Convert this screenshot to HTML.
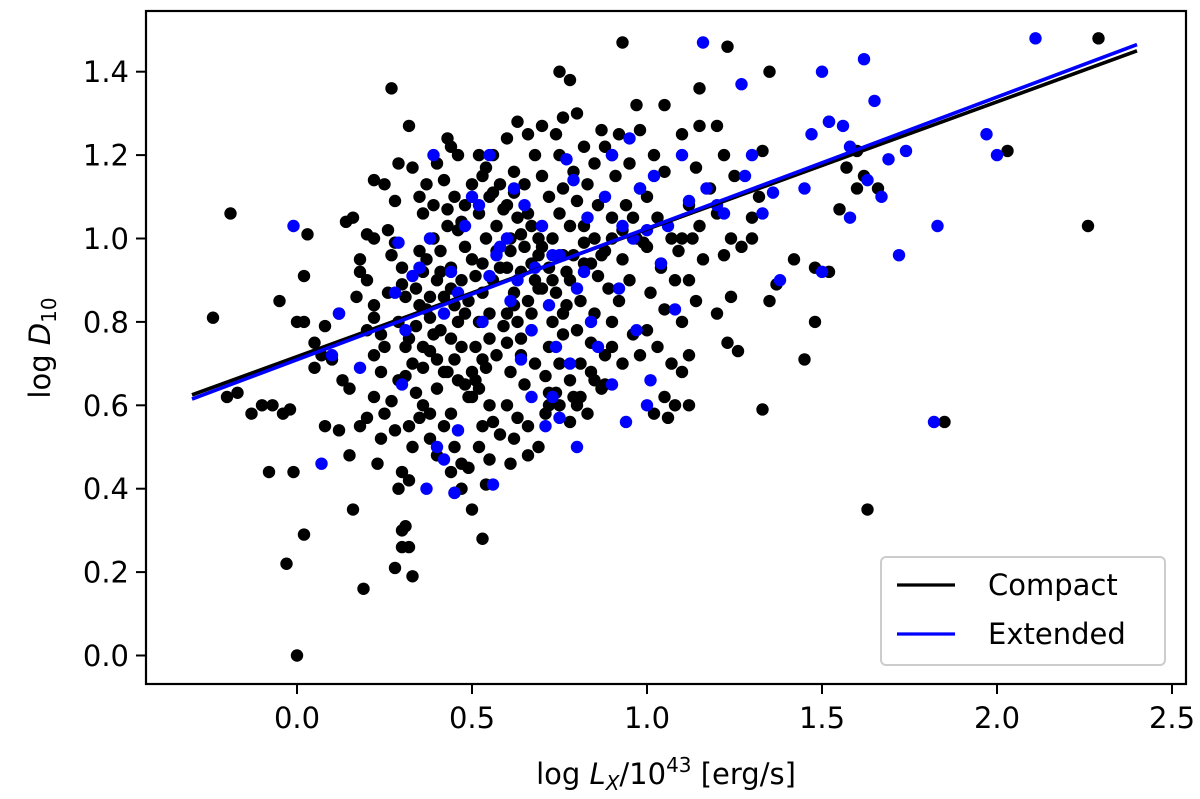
<!DOCTYPE html>
<html><head><meta charset="utf-8"><style>
html,body{margin:0;padding:0;background:#fff;}
svg{display:block;font-family:"DejaVu Sans","Liberation Sans",sans-serif;}
</style></head><body>
<svg id="chart" width="1200" height="799" viewBox="0 0 1200 799">
<g id="marks"></g>
<g id="axes"></g>
</svg>
<script>
const blackX=[-0.24,-0.19,-0.2,-0.17,-0.13,-0.1,-0.07,-0.04,-0.02,-0.08,-0.01,-0.03,0.02,0.0,-0.05,0.0,0.02,0.03,0.02,0.05,0.07,0.08,0.05,0.1,0.08,0.12,0.13,0.15,0.15,0.16,0.19,0.2,0.18,0.12,0.14,0.16,0.18,0.18,0.17,0.2,0.22,0.22,0.2,0.24,0.22,0.25,0.25,0.24,0.23,0.22,0.27,0.28,0.29,0.27,0.28,0.25,0.22,0.22,0.2,0.26,0.28,0.27,0.3,0.3,0.31,0.28,0.3,0.31,0.29,0.3,0.32,0.33,0.3,0.32,0.33,0.32,0.35,0.36,0.34,0.31,0.33,0.36,0.32,0.36,0.34,0.35,0.38,0.38,0.36,0.4,0.37,0.39,0.41,0.43,0.35,0.32,0.29,0.33,0.37,0.42,0.4,0.44,0.46,0.43,0.45,0.48,0.46,0.48,0.5,0.44,0.47,0.42,0.45,0.48,0.41,0.44,0.47,0.4,0.43,0.46,0.49,0.4,0.38,0.42,0.45,0.4,0.47,0.44,0.49,0.38,0.45,0.47,0.5,0.53,0.54,0.55,0.52,0.53,0.56,0.55,0.52,0.5,0.53,0.51,0.55,0.52,0.55,0.53,0.56,0.53,0.57,0.54,0.57,0.52,0.55,0.58,0.54,0.56,0.52,0.6,0.63,0.66,0.7,0.68,0.62,0.65,0.7,0.72,0.6,0.63,0.67,0.61,0.65,0.69,0.6,0.64,0.68,0.62,0.66,0.6,0.63,0.67,0.6,0.64,0.68,0.61,0.65,0.6,0.63,0.66,0.62,0.69,0.72,0.74,0.71,0.75,0.72,0.76,0.73,0.77,0.74,0.78,0.72,0.76,0.73,0.78,0.75,0.8,0.76,0.79,0.75,0.74,0.76,0.75,0.78,0.8,0.82,0.85,0.83,0.86,0.82,0.85,0.88,0.82,0.86,0.89,0.81,0.85,0.8,0.84,0.88,0.81,0.85,0.79,0.83,0.78,0.8,0.88,0.9,0.92,0.95,0.93,0.97,0.9,0.94,0.98,0.91,0.95,0.88,0.92,0.9,0.87,0.93,0.97,0.98,1.02,1.05,1.0,1.03,1.07,1.0,1.04,1.08,1.01,1.05,1.0,1.03,1.07,0.98,1.02,1.06,1.05,1.1,1.12,1.1,1.14,1.12,1.16,1.1,1.15,1.12,1.18,1.14,1.1,1.05,1.15,1.2,1.22,1.25,1.2,1.24,1.22,1.2,1.23,1.26,1.24,1.27,1.3,1.32,1.33,1.35,1.23,1.3,1.35,1.37,1.33,1.42,1.45,1.48,1.48,1.52,1.52,1.6,1.57,1.62,1.6,1.55,1.63,1.66,1.85,2.03,2.26,2.29,1.12,1.08,1.15,
0.34,0.37,0.39,0.41,0.44,0.46,0.49,0.51,0.35,0.38,0.42,0.45,0.48,0.51,0.54,0.57,0.59,0.62,0.64,0.67,0.7,0.58,0.61,0.64,0.67,0.7,0.73,0.76,0.79,0.82,0.84,0.87,0.9,0.93,0.96,0.99,0.36,0.39,0.43,0.47,0.5,0.53,0.56,0.59,0.62,0.66,0.69,0.72,0.75,0.78,0.81,0.84,0.87,0.9,0.93,0.96,0.26,0.29,0.24,0.31,0.44,0.5,0.58,0.61,0.66,0.71,1.04,1.09,1.13,0.69,0.77];
const blackY=[0.81,1.06,0.62,0.63,0.58,0.6,0.6,0.58,0.59,0.44,0.44,0.22,0.29,0.0,0.85,0.8,0.91,1.01,0.8,0.75,0.72,0.79,0.69,0.71,0.55,0.54,0.66,0.64,0.48,0.35,0.16,0.57,0.55,0.82,1.04,1.05,0.95,0.92,0.86,0.9,0.84,0.81,0.78,0.77,0.72,0.74,0.58,0.52,0.46,0.62,0.61,0.54,0.66,1.36,1.09,1.13,1.14,1.0,1.01,1.02,0.99,0.96,0.93,0.89,0.86,0.21,0.3,0.31,0.4,0.44,0.42,0.5,0.26,0.26,0.19,0.55,0.57,0.6,0.63,0.67,0.7,0.69,0.76,0.74,0.79,0.84,0.81,0.86,0.92,0.9,0.95,1.0,0.97,1.03,1.1,1.27,1.18,1.17,1.13,1.14,1.18,1.22,1.2,1.24,1.1,1.08,1.02,0.98,0.95,0.93,0.9,0.86,0.84,0.82,0.78,0.76,0.74,0.71,0.68,0.66,0.62,0.64,0.58,0.55,0.5,0.48,0.46,0.44,0.45,0.52,0.39,0.4,0.35,0.28,0.41,0.47,0.5,0.55,0.56,0.6,0.64,0.68,0.71,0.74,0.76,0.8,0.82,0.87,0.9,0.94,0.97,1.0,1.03,1.06,1.1,1.13,1.17,1.2,1.2,1.24,1.28,1.25,1.27,1.2,1.16,1.13,1.15,1.1,1.08,1.05,1.03,1.0,0.98,0.96,0.93,0.92,0.9,0.87,0.85,0.82,0.8,0.78,0.75,0.72,0.7,0.68,0.65,0.6,0.57,0.55,0.52,0.5,0.6,0.63,0.67,0.7,0.74,0.77,0.8,0.84,0.87,0.9,0.93,0.96,1.0,1.03,1.06,1.09,1.12,1.16,1.2,1.25,1.29,1.4,1.38,1.3,1.22,1.18,1.13,1.08,1.03,1.0,0.97,0.94,0.91,0.88,0.85,0.82,0.78,0.75,0.72,0.7,0.66,0.62,0.58,0.56,0.6,0.65,0.8,0.85,0.9,0.95,1.0,1.05,1.08,1.12,1.15,1.18,1.22,1.25,1.2,1.26,1.47,1.32,1.26,1.2,1.16,1.1,1.05,1.0,0.98,0.94,0.9,0.87,0.83,0.78,0.74,0.7,0.72,0.58,0.57,0.62,0.68,0.72,0.8,0.85,0.9,0.95,1.0,1.03,1.08,1.12,1.17,1.25,1.32,1.36,1.27,1.2,1.15,1.06,1.0,0.96,0.82,0.75,0.73,0.86,0.98,1.05,1.1,1.21,1.4,1.46,1.0,0.85,0.89,0.59,0.95,0.71,0.8,0.93,0.92,1.28,1.21,1.17,1.15,1.12,1.07,0.35,1.12,0.56,1.21,1.03,1.48,0.6,0.6,1.27,
0.88,0.83,0.77,0.92,0.88,0.8,0.85,0.91,0.97,0.73,0.68,0.71,0.65,0.66,0.69,0.72,0.79,0.84,0.76,0.82,0.88,0.93,0.97,1.01,0.94,0.98,0.9,0.82,0.96,0.99,0.94,0.96,1.0,1.02,1.05,0.99,1.06,1.08,1.07,1.04,1.13,1.15,1.11,1.07,1.11,1.06,1.0,0.63,0.6,0.66,0.62,0.68,0.64,0.74,0.7,0.77,0.87,0.8,0.68,0.74,0.58,0.62,0.53,0.46,0.48,0.58,0.93,0.97,1.0,0.88,0.92];
const blueX=[-0.01,0.07,0.1,0.12,0.18,0.28,0.29,0.3,0.31,0.33,0.35,0.38,0.37,0.4,0.42,0.39,0.42,0.45,0.46,0.44,0.46,0.48,0.5,0.52,0.53,0.55,0.56,0.57,0.6,0.61,0.63,0.64,0.65,0.67,0.68,0.7,0.72,0.73,0.74,0.75,0.75,0.77,0.79,0.8,0.82,0.83,0.84,0.86,0.88,0.9,0.92,0.93,0.95,0.96,0.97,0.98,1.0,1.0,1.01,1.02,1.04,1.06,1.1,1.12,1.16,1.17,1.2,1.22,1.27,1.28,1.3,1.33,1.36,1.38,1.45,1.47,1.5,1.5,1.52,1.56,1.58,1.58,1.62,1.63,1.65,1.67,1.69,1.72,1.74,1.82,1.83,1.97,2.0,2.11,0.73,0.55,0.58,0.62,0.67,0.71,0.78,0.8,0.9,0.94,1.08];
const blueY=[1.03,0.46,0.72,0.82,0.69,0.87,0.99,0.65,0.78,0.91,0.93,1.0,0.4,0.5,0.47,1.2,0.82,0.39,0.54,0.92,0.87,1.03,1.1,1.08,0.8,0.91,0.41,0.96,1.0,0.85,0.9,0.71,1.08,0.78,0.93,1.03,0.84,0.62,0.74,0.57,0.96,1.19,1.14,0.88,0.92,1.05,0.8,0.74,1.1,1.2,0.88,1.03,1.24,1.0,0.78,1.12,1.02,0.6,0.66,1.15,0.94,1.03,1.2,1.09,1.47,1.12,1.08,1.06,1.37,1.15,1.2,1.06,1.11,0.9,1.12,1.25,1.4,0.92,1.28,1.27,1.22,1.05,1.43,1.14,1.33,1.1,1.19,0.96,1.21,0.56,1.03,1.25,1.2,1.48,0.96,1.2,0.98,1.12,0.62,0.55,0.7,0.5,0.65,0.56,0.83];
const fitX=[-0.3,2.4];
const compactFitY=[0.625,1.45];
const extendedFitY=[0.615,1.465];
const xTicks=[0.0,0.5,1.0,1.5,2.0,2.5];
const xTickLabels=["0.0","0.5","1.0","1.5","2.0","2.5"];
const yTicks=[0.0,0.2,0.4,0.6,0.8,1.0,1.2,1.4];
const yTickLabels=["0.0","0.2","0.4","0.6","0.8","1.0","1.2","1.4"];

const NS="http://www.w3.org/2000/svg";
const L=146,R=1186,T=11,B=684;
function sx(v){return 297+v*350;}
function sy(v){return 655.5-v*417;}
function mk(tag,attrs,parent){const e=document.createElementNS(NS,tag);for(const k in attrs)e.setAttribute(k,attrs[k]);parent.appendChild(e);return e;}
const marks=document.getElementById('marks');
const axes=document.getElementById('axes');

for(let i=0;i<blackX.length;i++){
  const c=mk('circle',{cx:sx(blackX[i]),cy:sy(blackY[i]),r:6.2,fill:'#000'},marks);
  
  
}
for(let i=0;i<blueX.length;i++){
  const c=mk('circle',{cx:sx(blueX[i]),cy:sy(blueY[i]),r:6.2,fill:'#0000ff'},marks);
  
  
}
const l1=mk('line',{x1:sx(fitX[0]),y1:sy(compactFitY[0]),x2:sx(fitX[1]),y2:sy(compactFitY[1]),stroke:'#000','stroke-width':3.6},marks);


const l2=mk('line',{x1:sx(fitX[0]),y1:sy(extendedFitY[0]),x2:sx(fitX[1]),y2:sy(extendedFitY[1]),stroke:'#0000ff','stroke-width':3.6},marks);



const frame=mk('rect',{x:L,y:T,width:R-L,height:B-T,fill:'none',stroke:'#000','stroke-width':2.2},axes);



for(let i=0;i<xTicks.length;i++){
  const x=sx(xTicks[i]);
  const t=mk('line',{x1:x,y1:B,x2:x,y2:B+10,stroke:'#000','stroke-width':2},axes);
  
  
  const tx=mk('text',{x:x,y:B+44,'text-anchor':'middle','font-size':29,fill:'#000'},axes);
  tx.textContent=xTickLabels[i];
  
  
}
for(let i=0;i<yTicks.length;i++){
  const y=sy(yTicks[i]);
  const t=mk('line',{x1:L-10,y1:y,x2:L,y2:y,stroke:'#000','stroke-width':2},axes);
  
  
  const tx=mk('text',{x:L-17,y:y+10.5,'text-anchor':'end','font-size':29,fill:'#000'},axes);
  tx.textContent=yTickLabels[i];
  
  
}
</script>
<svg style="position:absolute;left:0;top:0" width="1200" height="799">
<text x="666" y="784" text-anchor="middle" font-size="29" font-family="DejaVu Sans, Liberation Sans, sans-serif">log <tspan font-style="italic">L</tspan><tspan font-style="italic" font-size="20" dy="6">X</tspan><tspan dy="-6">/10</tspan><tspan font-size="20" dy="-12">43</tspan><tspan dy="12"> [erg/s]</tspan></text>
<text transform="translate(50,348) rotate(-90)" text-anchor="middle" font-size="29" font-family="DejaVu Sans, Liberation Sans, sans-serif">log <tspan font-style="italic">D</tspan><tspan font-size="20" dy="6">10</tspan></text>
<g>
<rect x="881" y="557" width="284" height="108" rx="5" fill="#fff" fill-opacity="0.85" stroke="#ccc" stroke-width="2"/>
<line x1="897" y1="585" x2="955" y2="585" stroke="#000" stroke-width="3.2"/>
<text x="988" y="595" font-size="29" font-family="DejaVu Sans, Liberation Sans, sans-serif">Compact</text>
<line x1="897" y1="634" x2="955" y2="634" stroke="#0000ff" stroke-width="3.2"/>
<text x="988" y="644" font-size="29" font-family="DejaVu Sans, Liberation Sans, sans-serif">Extended</text>
</g>
</svg>
</body></html>
